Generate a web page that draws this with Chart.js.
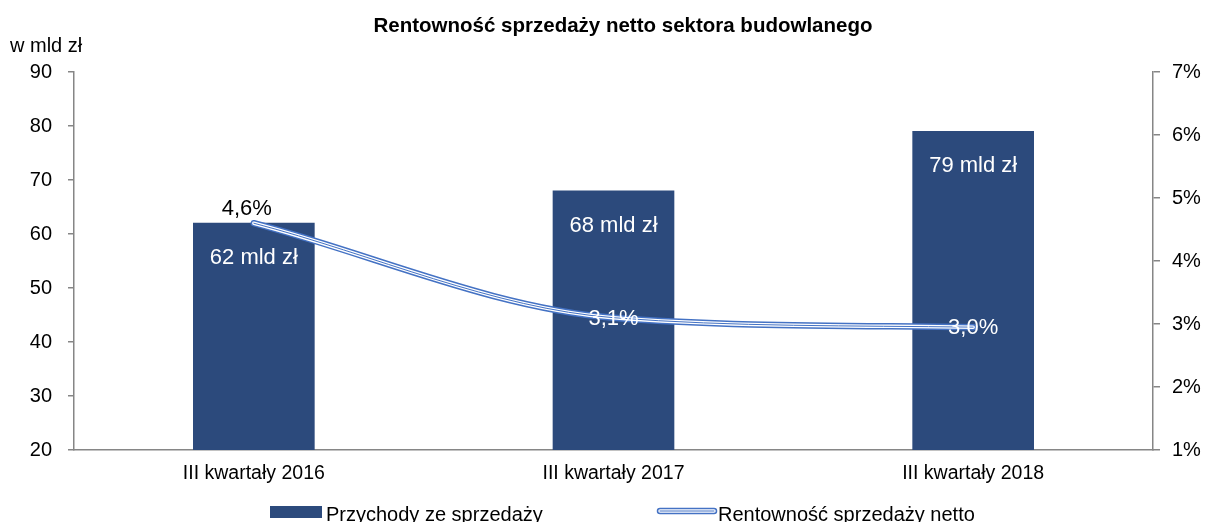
<!DOCTYPE html>
<html><head><meta charset="utf-8">
<script src="https://cdn.jsdelivr.net/npm/chart.js@4"></script>
<style>html,body{margin:0;padding:0;background:#fff}#wrap{width:1205px;height:522px;position:relative}</style>
</head><body><div id="wrap"><canvas id="c" width="1205" height="522"></canvas></div>
<script>
const categories = ['III kwartały 2016', 'III kwartały 2017', 'III kwartały 2018'];
const revenue = [62, 68, 79];
const profitability = [4.6, 3.1, 2.95];
const profitabilityLabels = ['4,6%', '3,1%', '3,0%'];
const leftTicks = [20, 30, 40, 50, 60, 70, 80, 90];
const rightTicks = [1, 2, 3, 4, 5, 6, 7];
const titleText = 'Rentowność sprzedaży netto sektora budowlanego';
const unitText = 'w mld zł';
const legendLabels = ['Przychody ze sprzedaży', 'Rentowność sprzedaży netto'];

const FONT = '"Liberation Sans", Arial, sans-serif';
const BAR = '#2C4A7C';
const LINE = '#4472C4';
const AXIS = '#868686';

const overlay = {
  id: 'overlay',
  afterDatasetsDraw(chart) {
    const ctx = chart.ctx;
    ctx.save();
    const bm = chart.getDatasetMeta(0);
    ctx.font = '22px ' + FONT;
    ctx.fillStyle = '#fff';
    ctx.textAlign = 'center';
    ctx.textBaseline = 'middle';
    bm.data.forEach((el, i) => {
      ctx.fillText(revenue[i] + ' mld zł', el.x, el.y + 35);
    });
    const lm = chart.getDatasetMeta(1);
    lm.data.forEach((el, i) => {
      if (i === 0) {
        ctx.fillStyle = '#000';
        ctx.fillText(profitabilityLabels[i], el.x - 7, el.y - 14);
      } else {
        ctx.fillStyle = '#fff';
        ctx.fillText(profitabilityLabels[i], el.x, el.y + 1);
      }
    });
    ctx.restore();
  },
  afterDraw(chart) {
    const ctx = chart.ctx;
    ctx.save();
    ctx.fillStyle = '#000';
    ctx.textBaseline = 'middle';
    ctx.font = 'bold 20.5px ' + FONT;
    ctx.textAlign = 'center';
    ctx.fillText(titleText, 623, 26);
    ctx.font = '20px ' + FONT;
    ctx.textAlign = 'left';
    ctx.fillText(unitText, 10, 46);
    ctx.fillStyle = BAR;
    ctx.fillRect(270, 506, 52, 12);
    ctx.fillStyle = '#000';
    ctx.fillText(legendLabels[0], 326, 515);
    ctx.lineCap = 'round';
    ctx.strokeStyle = LINE; ctx.lineWidth = 6.5;
    ctx.beginPath(); ctx.moveTo(660, 511); ctx.lineTo(714, 511); ctx.stroke();
    ctx.strokeStyle = '#fff'; ctx.lineWidth = 3.5;
    ctx.beginPath(); ctx.moveTo(660, 511); ctx.lineTo(714, 511); ctx.stroke();
    ctx.strokeStyle = LINE; ctx.lineWidth = 1;
    ctx.beginPath(); ctx.moveTo(660, 511); ctx.lineTo(714, 511); ctx.stroke();
    ctx.fillStyle = '#000';
    ctx.fillText(legendLabels[1], 718, 515);
    ctx.restore();
  }
};

const lineCommon = {
  type: 'line', yAxisID: 'y1', data: profitability,
  pointRadius: 0, cubicInterpolationMode: 'monotone', fill: false, borderCapStyle: 'round'
};

new Chart(document.getElementById('c'), {
  data: {
    labels: categories,
    datasets: [
      { type: 'bar', label: legendLabels[0], data: revenue, backgroundColor: BAR, yAxisID: 'y',
        barThickness: 121, order: 3 },
      Object.assign({}, lineCommon, { label: legendLabels[1], borderColor: LINE, borderWidth: 6.5, order: 2 }),
      Object.assign({}, lineCommon, { label: 'w', borderColor: '#fff', borderWidth: 3.5, order: 1 }),
      Object.assign({}, lineCommon, { label: 'c', borderColor: LINE, borderWidth: 1, order: 0 })
    ]
  },
  options: {
    responsive: false, animation: false,
    layout: { padding: { top: 72, left: 0, right: 0, bottom: 0 } },
    plugins: { legend: { display: false }, title: { display: false }, tooltip: { enabled: false } },
    scales: {
      x: {
        grid: { display: true, drawOnChartArea: false, drawTicks: false },
        border: { display: true, color: AXIS, width: 1.5 },
        ticks: { color: '#000', font: { family: FONT, size: 19.5 }, padding: 12, maxRotation: 0 },
        afterFit(s) { s.height = 72; }
      },
      y: {
        position: 'left', min: 20, max: 90,
        afterBuildTicks(s) { s.ticks = leftTicks.map(v => ({ value: v })); },
        grid: { drawOnChartArea: false, drawTicks: true, tickLength: 6, color: AXIS, lineWidth: 1.5 },
        border: { display: true, color: AXIS, width: 1.5 },
        ticks: { color: '#000', font: { family: FONT, size: 20 }, padding: 16 },
        afterFit(s) { s.width = 74; }
      },
      y1: {
        position: 'right', min: 1, max: 7,
        afterBuildTicks(s) { s.ticks = rightTicks.map(v => ({ value: v })); },
        grid: { drawOnChartArea: false, drawTicks: true, tickLength: 7, color: AXIS, lineWidth: 1.5 },
        border: { display: true, color: AXIS, width: 1.5 },
        ticks: { color: '#000', font: { family: FONT, size: 20 }, padding: 12, callback: v => v + '%' },
        afterFit(s) { s.width = 52; }
      }
    }
  },
  plugins: [overlay]
});
</script></body></html>
